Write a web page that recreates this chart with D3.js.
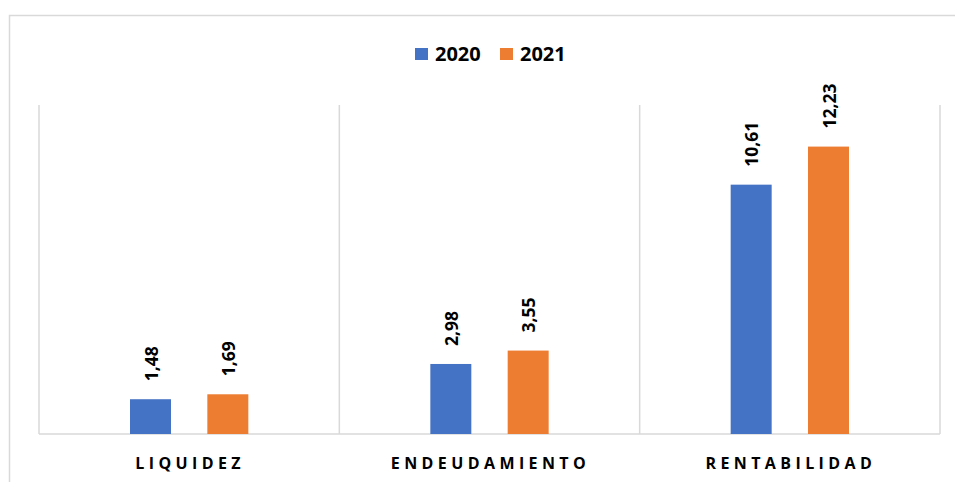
<!DOCTYPE html>
<html>
<head>
<meta charset="utf-8">
<script src="https://cdn.jsdelivr.net/npm/d3@7"></script>
<style>
  html, body { margin: 0; padding: 0; background: #fff; }
  svg { display: block; }
</style>
</head>
<body>
<svg id="chart" width="955" height="482"></svg>
<script>
const categories = ["LIQUIDEZ", "ENDEUDAMIENTO", "RENTABILIDAD"];
const years = ["2020", "2021"];
const values2020 = [1.48, 2.98, 10.61];
const values2021 = [1.69, 3.55, 12.23];
const valueLabels2020 = ["1,48", "2,98", "10,61"];
const valueLabels2021 = ["1,69", "3,55", "12,23"];
const colors = { "2020": "#4472C4", "2021": "#ED7D31" };

const svg = d3.select("#chart");
const W = 955, H = 482;
const plot = { left: 39, right: 940, top: 105, bottom: 434 };
const grid = "#D9D9D9";
const font = "'Open Sans', 'Noto Sans', sans-serif";

// outer chart border
svg.append("rect")
  .attr("x", 9.5).attr("y", 15.5)
  .attr("width", W + 20).attr("height", H + 20)
  .attr("fill", "none").attr("stroke", grid).attr("stroke-width", 1.5);

const x0 = d3.scaleBand().domain(categories).range([plot.left, plot.right]).padding(0);
const bw = x0.bandwidth();
const x1 = d3.scaleBand().domain(years).range([bw * 0.303, bw * 0.697]).paddingInner(0.47).paddingOuter(0);
const y = d3.scaleLinear().domain([0, 14]).range([plot.bottom, plot.top]);

// vertical category separators
const seps = categories.map(c => x0(c)).concat([plot.right]);
svg.append("g").selectAll("line").data(seps).join("line")
  .attr("x1", d => d).attr("x2", d => d)
  .attr("y1", plot.top).attr("y2", plot.bottom)
  .attr("stroke", grid).attr("stroke-width", 1.5);

// baseline axis
svg.append("line")
  .attr("x1", plot.left).attr("x2", plot.right)
  .attr("y1", plot.bottom).attr("y2", plot.bottom)
  .attr("stroke", grid).attr("stroke-width", 1.5);

const rows = categories.map((c, i) => ({
  cat: c,
  series: [
    { year: "2020", v: values2020[i], label: valueLabels2020[i] },
    { year: "2021", v: values2021[i], label: valueLabels2021[i] }
  ]
}));

const groups = svg.append("g").selectAll("g").data(rows).join("g")
  .attr("transform", d => `translate(${x0(d.cat)},0)`);

groups.selectAll("rect").data(d => d.series).join("rect")
  .attr("x", d => x1(d.year))
  .attr("y", d => y(d.v))
  .attr("width", x1.bandwidth())
  .attr("height", d => y(0) - y(d.v))
  .attr("fill", d => colors[d.year]);

groups.selectAll("text").data(d => d.series).join("text")
  .attr("transform", d => `translate(${x1(d.year) + x1.bandwidth() / 2 + 1},${y(d.v) - 18}) rotate(-90)`)
  .attr("dy", "0.36em")
  .attr("text-anchor", "start")
  .attr("font-family", font)
  .attr("font-weight", "bold")
  .attr("font-size", "17.5px")
  .attr("fill", "#000")
  .text(d => d.label);

// category axis labels
const xAxis = d3.axisBottom(x0).tickSize(0).tickPadding(0);
const ax = svg.append("g").attr("transform", `translate(0,${plot.bottom})`).call(xAxis);
ax.select(".domain").remove();
ax.selectAll("text")
  .attr("y", 34.5)
  .attr("dy", 0)
  .attr("dx", "1px")
  .attr("font-family", font)
  .attr("font-weight", "bold")
  .attr("font-size", "16px")
  .attr("letter-spacing", "4.4px")
  .attr("fill", "#000");

// legend
const legend = svg.append("g");
const legendItems = [
  { year: "2020", x: 415 },
  { year: "2021", x: 500 }
];
legendItems.forEach(it => {
  legend.append("rect")
    .attr("x", it.x).attr("y", 48).attr("width", 13).attr("height", 12)
    .attr("fill", colors[it.year]);
  legend.append("text")
    .attr("x", it.x + 20).attr("y", 60.5)
    .attr("font-family", font).attr("font-weight", "bold").attr("font-size", "20px")
    .attr("fill", "#000")
    .text(it.year);
});
</script>
</body>
</html>
